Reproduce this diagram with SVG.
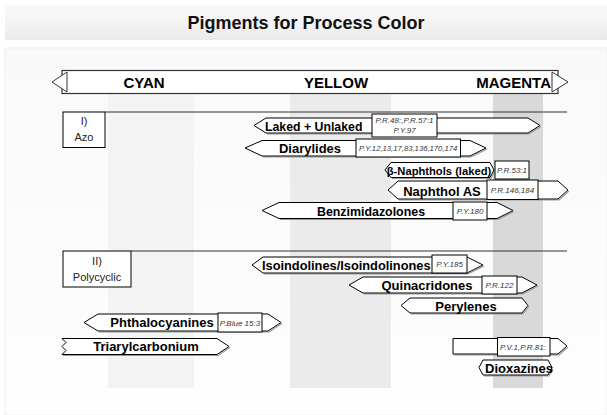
<svg xmlns="http://www.w3.org/2000/svg" width="607" height="415" viewBox="0 0 607 415">
<defs>
<linearGradient id="tg" x1="0" y1="0" x2="0" y2="1">
<stop offset="0" stop-color="#f9f9f9"/><stop offset="0.5" stop-color="#f4f4f4"/><stop offset="1" stop-color="#e9e9e9"/>
</linearGradient>
<linearGradient id="pg" x1="0" y1="0" x2="0" y2="1">
<stop offset="0" stop-color="#f9f9f9"/><stop offset="1" stop-color="#fefefe"/>
</linearGradient>
<clipPath id="cpv"><rect x="497.5" y="338" width="52.5" height="17.5"/></clipPath>
</defs>
<style>
.sh{fill:#fff;stroke:#000;stroke-width:1}
.sd{fill:none;stroke:#999;stroke-width:1.2}
.lb{font-family:"Liberation Sans",Arial,sans-serif;font-weight:bold;font-size:13px;fill:#000}
.lt{fill:#fff;stroke:#000;stroke-width:1}
.it{font-family:"Liberation Sans",Arial,sans-serif;font-style:italic;font-size:8px;fill:#333;text-anchor:middle}
.hd{font-family:"Liberation Sans",Arial,sans-serif;font-weight:bold;font-size:15px;fill:#000}
.sec{fill:#fff;stroke:#000;stroke-width:1}
.st{font-family:"Liberation Sans",Arial,sans-serif;font-size:11px;fill:#222;text-anchor:middle}
.ln{stroke:#333;stroke-width:1.2}
</style>
<rect x="0" y="0" width="607" height="415" fill="#fff"/>
<rect x="5" y="5" width="602" height="35" fill="url(#tg)"/>
<text x="306" y="29" text-anchor="middle" font-family="Liberation Sans,Arial,sans-serif" font-weight="bold" font-size="18" fill="#111">Pigments for Process Color</text>
<rect x="5" y="48" width="602" height="367" fill="url(#pg)" stroke="#f0f0f0"/>
<g id="bands">
<rect x="108" y="93.5" width="86" height="294.5" fill="#f3f3f3"/>
<rect x="290" y="93.5" width="101" height="294.5" fill="#ebebeb"/>
<rect x="493" y="93.5" width="50" height="294.5" fill="#d9d9d9"/>
</g>
<g id="header">
<rect x="62" y="70.5" width="496" height="23" fill="#fff" stroke="#333" stroke-width="1.2"/>
<path d="M67,72 L52,82 L67,92 Z" fill="#fff" stroke="#333"/>
<path d="M552,72 L568,82 L552,92 Z" fill="#fff" stroke="#333"/>
<text class="hd" x="144" y="88" style="text-anchor:middle">CYAN</text>
<text class="hd" x="336" y="88" style="text-anchor:middle">YELLOW</text>
<text class="hd" x="551" y="88" style="text-anchor:end">MAGENTA</text>
</g>
<g id="connectors">
<line class="ln" x1="105" y1="112" x2="567" y2="112"/>
<line class="ln" x1="131" y1="251" x2="567" y2="251"/>
</g>
<g id="azo">
<rect class="sec" x="63" y="112" width="42" height="35.5"/>
<text class="st" x="84" y="125">I)</text>
<text class="st" x="84" y="141">Azo</text>
</g>
<g id="polycyclic">
<rect class="sec" x="63" y="251" width="68" height="36"/>
<text class="st" x="97" y="265">II)</text>
<text class="st" x="97" y="281">Polycyclic</text>
</g>
<g id="laked">
<path class="sd" d="M267,134 L529,134 L541,126.5"/>
<path class="sh" d="M254,125.5 L266,118 L528,118 L540,125.5 L528,133 L266,133 Z"/>
<text class="lb" x="265" y="130.5" style="font-size:12.3px">Laked + Unlaked</text>
<rect class="lt" x="372" y="114" width="65" height="23"/>
<text class="it" x="404.5" y="123">P.R.48:,P.R.57:1</text>
<text class="it" x="404.5" y="133">P.Y.97</text>
</g>
<g id="diarylides">
<path class="sd" d="M263,157 L471,157 L487,149"/>
<path class="sh" d="M245,148 L262,140.5 L470,140.5 L486,148 L470,156 L262,156 Z"/>
<text class="lb" x="310" y="153" style="text-anchor:middle">Diarylides</text>
<rect class="lt" x="356" y="139" width="104.5" height="18"/>
<text class="it" x="408.2" y="151" style="font-size:7.7px">P.Y.12,13,17,83,136,170,174</text>
</g>
<g id="naphthols">
<path class="sd" d="M392,178.5 L491,178.5 L495,171"/>
<path class="sh" d="M385,170 L391,162.5 L490,162.5 L494,170 L490,177.5 L391,177.5 Z"/>
<text class="lb" x="439" y="174.5" style="text-anchor:middle;font-size:11.2px">β-Naphthols (laked)</text>
<rect class="lt" x="495" y="161" width="34" height="18"/>
<text class="it" x="512" y="173">P.R.53:1</text>
</g>
<g id="naphthol-as">
<path class="sd" d="M399,200 L559,200 L569,191"/>
<path class="sh" d="M388,190 L398,181 L558,181 L568,190 L558,199 L398,199 Z"/>
<text class="lb" x="442" y="195.5" style="text-anchor:middle">Naphthol AS</text>
<rect class="lt" x="487" y="180" width="51" height="19.5"/>
<text class="it" x="512.5" y="193">P.R.146,184</text>
</g>
<g id="benzimidazolones">
<path class="sd" d="M280,219.5 L498,219.5 L514,211.5"/>
<path class="sh" d="M262,210.5 L279,202.5 L497,202.5 L513,210.5 L497,218.5 L279,218.5 Z"/>
<text class="lb" x="371" y="215.5" style="text-anchor:middle;font-size:12.4px">Benzimidazolones</text>
<rect class="lt" x="453" y="202" width="34" height="18"/>
<text class="it" x="470" y="214">P.Y.180</text>
</g>
<g id="isoindolines">
<path class="sd" d="M264,274 L468,274 L484,266"/>
<path class="sh" d="M252,265 L263,257 L467,257 L483,265 L467,273 L263,273 Z"/>
<text class="lb" x="262" y="270" style="font-size:12.8px">Isoindolines/Isoindolinones</text>
<rect class="lt" x="432" y="255" width="35" height="18"/>
<text class="it" x="449.5" y="267">P.Y.185</text>
</g>
<g id="quinacridones">
<path class="sd" d="M364,294 L523,294 L538,286"/>
<path class="sh" d="M349,285 L363,277 L522,277 L537,285 L522,293 L363,293 Z"/>
<text class="lb" x="427" y="290" style="text-anchor:middle">Quinacridones</text>
<rect class="lt" x="482" y="276" width="35" height="18"/>
<text class="it" x="499.5" y="288">P.R.122</text>
</g>
<g id="perylenes">
<path class="sd" d="M411,314 L523,314 L529,306.5"/>
<path class="sh" d="M401,305.5 L410,298 L522,298 L528,305.5 L522,313 L410,313 Z"/>
<text class="lb" x="466" y="310.5" style="text-anchor:middle">Perylenes</text>
</g>
<g id="phthalocyanines">
<path class="sd" d="M99,332 L269,332 L282,323.5"/>
<path class="sh" d="M84,322.5 L98,314 L268,314 L281,322.5 L268,331 L98,331 Z"/>
<text class="lb" x="162" y="327" style="text-anchor:middle">Phthalocyanines</text>
<rect class="lt" x="218" y="313" width="44" height="19"/>
<text class="it" x="240" y="325.5">P.Blue 15:3</text>
</g>
<g id="triarylcarbonium">
<path class="sd" d="M63,355.5 L218,355.5 L230,347.5"/>
<path class="sh" d="M62,338.5 L217,338.5 L229,346.5 L217,354.5 L62,354.5 L66,350.5 L62,346.5 L66,342.5 Z"/>
<text class="lb" x="146" y="351" style="text-anchor:middle">Triarylcarbonium</text>
</g>
<g id="pv1">
<path class="sd" d="M454,355 L559,355 L568,347"/>
<path class="sh" d="M453,338.5 L558,338.5 L567,346 L558,354 L453,354 Z"/>
<rect class="lt" x="497.5" y="337.5" width="52.5" height="18.5"/>
<text class="it" x="500" y="349.5" style="text-anchor:start" clip-path="url(#cpv)">P.V.1,P.R.81:</text>
</g>
<g id="dioxazines">
<path class="sd" d="M484,376 L549,376 L553,368.5"/>
<path class="sh" d="M479,367.5 L483,360 L548,360 L552,367.5 L548,375 L483,375 Z"/>
<text class="lb" x="485" y="372.5">Dioxazines</text>
</g>
</svg>
